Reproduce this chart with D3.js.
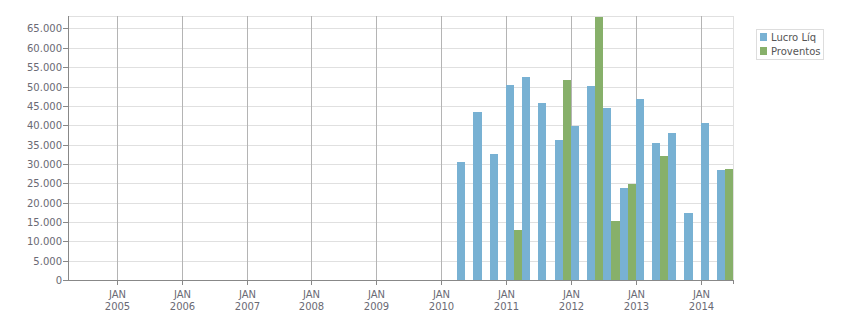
<!DOCTYPE html>
<html>
<head>
<meta charset="utf-8">
<script src="https://cdn.jsdelivr.net/npm/d3@7"></script>
<style>
  body { margin: 0; background: #fff; }
  text { font-family: "DejaVu Sans", sans-serif; }
</style>
</head>
<body>
<script>
// quarterly data
var quarters = ["2010-04", "2010-07", "2010-10", "2011-01", "2011-04", "2011-07", "2011-10",
                "2012-01", "2012-04", "2012-07", "2012-10", "2013-01", "2013-04", "2013-07",
                "2013-10", "2014-01", "2014-04"];
var lucroLiq = [30500, 43400, 32600, 50400, 52500, 45700, 36200,
                39800, 50100, 44400, 23800, 46800, 35400, 38000,
                17300, 40600, 28400];
var proventos = [0, 0, 0, 12900, 0, 0, 51700,
                 0, 67900, 15300, 24800, 0, 32000, 0,
                 0, 0, 28700];
var seriesNames = ["Lucro Líq", "Proventos"];
var seriesColors = ["#78b1d3", "#87b06a"];
var yTicks = [0, 5000, 10000, 15000, 20000, 25000, 30000, 35000, 40000, 45000, 50000, 55000, 60000, 65000];
var xYears = [2005, 2006, 2007, 2008, 2009, 2010, 2011, 2012, 2013, 2014];

var chartW = 851, chartH = 313;
var plotL = 68, plotR = 733, plotT = 16, plotB = 280;

var parse = d3.timeParse("%Y-%m");
var dates = quarters.map(parse);

var x = d3.scaleTime()
    .domain([new Date(2004, 3, 1), new Date(2014, 6, 1)])
    .range([plotL, plotR]);
var y = d3.scaleLinear()
    .domain([0, 68230])
    .range([plotB, plotT]);

var fmt = d3.formatLocale({decimal: ",", thousands: ".", grouping: [3], currency: ["R$", ""]}).format(",d");

var svg = d3.select("body").append("svg")
    .attr("width", chartW)
    .attr("height", chartH);

// horizontal grid
svg.append("g").selectAll("line")
    .data(yTicks.concat([y.domain()[1]]))
    .enter().append("line")
    .attr("x1", plotL).attr("x2", plotR)
    .attr("y1", function(d) { return Math.round(y(d)) + 0.5; })
    .attr("y2", function(d) { return Math.round(y(d)) + 0.5; })
    .attr("stroke", "#e0e0e0");

// right border
svg.append("line")
    .attr("x1", plotR + 0.5).attr("x2", plotR + 0.5)
    .attr("y1", plotT).attr("y2", plotB)
    .attr("stroke", "#e0e0e0");

// vertical grid at years
svg.append("g").selectAll("line")
    .data(xYears)
    .enter().append("line")
    .attr("x1", function(d) { return Math.round(x(new Date(d, 0, 1))) + 0.5; })
    .attr("x2", function(d) { return Math.round(x(new Date(d, 0, 1))) + 0.5; })
    .attr("y1", plotT).attr("y2", plotB)
    .attr("stroke", "#b4b4b4");

// bars: blue in first half of the quarter, green in the second half
var rows = dates.map(function(d, i) { return {date: d, v: [lucroLiq[i], proventos[i]]}; });

rows.forEach(function(r) {
  var x0 = x(r.date), x2 = x(d3.timeMonth.offset(r.date, 3));
  var mid = (x0 + x2) / 2;
  var edges = [[Math.round(x0), Math.round(mid)], [Math.round(mid), Math.round(x2)]];
  r.v.forEach(function(v, j) {
    if (!v) return;
    svg.append("rect")
      .attr("x", edges[j][0])
      .attr("width", edges[j][1] - edges[j][0])
      .attr("y", Math.round(y(v)))
      .attr("height", plotB - Math.round(y(v)))
      .attr("fill", seriesColors[j]);
  });
});

// axes lines
svg.append("line")
    .attr("x1", plotL + 0.5).attr("x2", plotL + 0.5)
    .attr("y1", plotT).attr("y2", plotB + 0.5)
    .attr("stroke", "#888");
svg.append("line")
    .attr("x1", plotL).attr("x2", plotR + 1)
    .attr("y1", plotB + 0.5).attr("y2", plotB + 0.5)
    .attr("stroke", "#888");
svg.append("line")
    .attr("x1", plotR + 0.5).attr("x2", plotR + 0.5)
    .attr("y1", plotB).attr("y2", plotB + 4)
    .attr("stroke", "#888");

// y ticks + labels
var yg = svg.append("g").selectAll("g")
    .data(yTicks)
    .enter().append("g")
    .attr("transform", function(d) { return "translate(0," + (Math.round(y(d)) + 0.5) + ")"; });
yg.append("line")
    .attr("x1", plotL - 5).attr("x2", plotL)
    .attr("stroke", "#888");
yg.append("text")
    .attr("x", plotL - 6)
    .attr("dy", "0.35em")
    .attr("text-anchor", "end")
    .style("font-size", "10px")
    .style("fill", "#6a6a74")
    .text(function(d) { return fmt(d); });

// x ticks + labels
var xg = svg.append("g").selectAll("g")
    .data(xYears)
    .enter().append("g")
    .attr("transform", function(d) { return "translate(" + (Math.round(x(new Date(d, 0, 1))) + 0.5) + ",0)"; });
xg.append("line")
    .attr("y1", plotB).attr("y2", plotB + 5)
    .attr("stroke", "#888");
xg.append("text")
    .attr("y", 298)
    .attr("text-anchor", "middle")
    .style("font-size", "10px")
    .style("fill", "#6a6a74")
    .text("JAN");
xg.append("text")
    .attr("y", 310)
    .attr("text-anchor", "middle")
    .style("font-size", "10px")
    .style("fill", "#6a6a74")
    .text(function(d) { return d; });

// legend
var lg = svg.append("g");
lg.append("rect")
    .attr("x", 756.5).attr("y", 29.5)
    .attr("width", 67).attr("height", 30)
    .attr("fill", "#fff")
    .attr("stroke", "#ddd");
seriesNames.forEach(function(name, i) {
  lg.append("rect")
    .attr("x", 760).attr("y", 33 + i * 14)
    .attr("width", 7).attr("height", 8)
    .attr("fill", seriesColors[i]);
  lg.append("text")
    .attr("x", 771).attr("y", 41 + i * 14)
    .style("font-size", "10px")
    .style("fill", "#555")
    .text(name);
});
</script>
</body>
</html>
